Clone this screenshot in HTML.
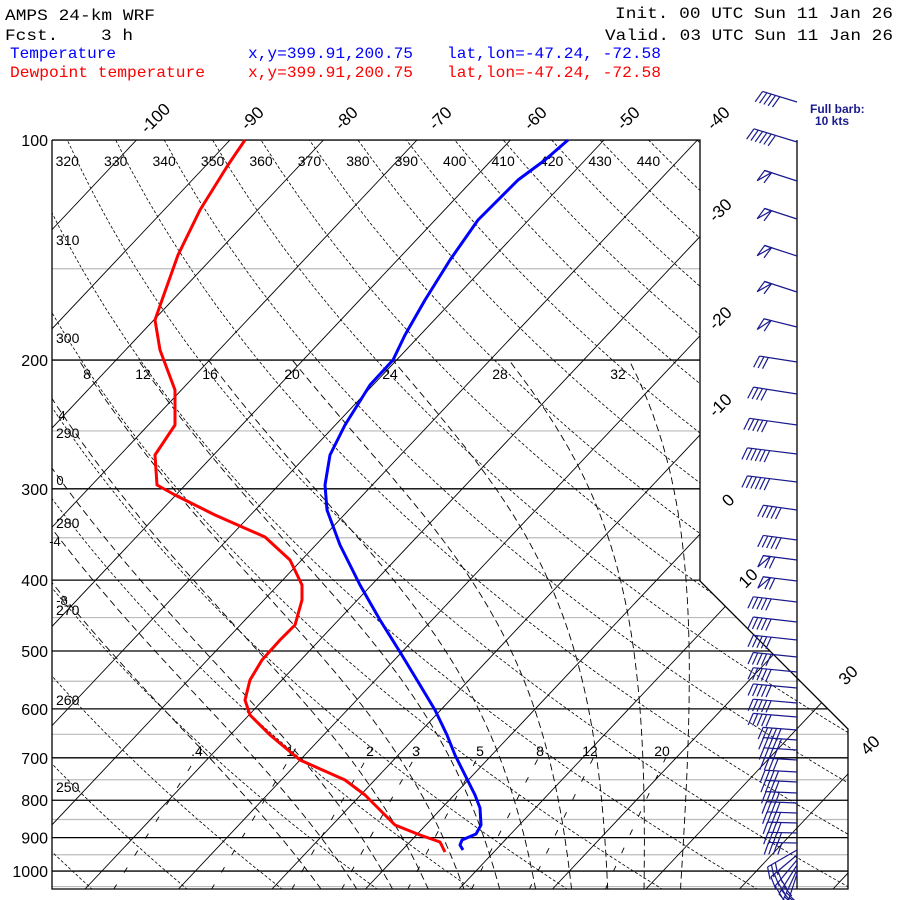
<!DOCTYPE html>
<html><head><meta charset="utf-8">
<style>
html,body{margin:0;padding:0;background:#fff;}
svg{display:block;}
text{font-family:"Liberation Sans",sans-serif;}
.m{font-family:"Liberation Mono","DejaVu Sans Mono",monospace;font-size:16px;}
</style></head>
<body>
<svg id="s" width="900" height="900" viewBox="0 0 900 900" xmlns="http://www.w3.org/2000/svg">
<defs>
<clipPath id="cp"><polygon points="52,140 700,140 700,581 838,719 848,729 848,889 52,889"/></clipPath>
</defs>
<rect width="900" height="900" fill="#fff"/>
<text class="m" x="5" y="20" textLength="150" lengthAdjust="spacingAndGlyphs">AMPS 24-km WRF</text>
<text class="m" x="5" y="40" textLength="128" lengthAdjust="spacingAndGlyphs" xml:space="preserve">Fcst.    3 h</text>
<text class="m" x="615" y="18" textLength="278" lengthAdjust="spacingAndGlyphs">Init. 00 UTC Sun 11 Jan 26</text>
<text class="m" x="605" y="40" textLength="288" lengthAdjust="spacingAndGlyphs">Valid. 03 UTC Sun 11 Jan 26</text>
<g fill="#0000ff">
<text class="m" x="10" y="58" textLength="106" lengthAdjust="spacingAndGlyphs">Temperature</text>
<text class="m" x="248" y="58" textLength="165" lengthAdjust="spacingAndGlyphs">x,y=399.91,200.75</text>
<text class="m" x="447" y="58" textLength="214" lengthAdjust="spacingAndGlyphs">lat,lon=-47.24, -72.58</text>
</g>
<g fill="#ff0000">
<text class="m" x="10" y="77" textLength="195" lengthAdjust="spacingAndGlyphs">Dewpoint temperature</text>
<text class="m" x="248" y="77" textLength="165" lengthAdjust="spacingAndGlyphs">x,y=399.91,200.75</text>
<text class="m" x="447" y="77" textLength="214" lengthAdjust="spacingAndGlyphs">lat,lon=-47.24, -72.58</text>
</g>
<g id="grid" clip-path="url(#cp)"></g>
<g id="lab"></g>
<g id="snd"></g>
<g id="barbs" stroke="#1a1a8c" stroke-width="1.2" fill="none"></g>
<text x="810" y="113" font-family="Liberation Serif,serif" font-weight="bold" font-size="12" fill="#1a1a8c">Full barb:</text>
<text x="815" y="125" font-family="Liberation Serif,serif" font-weight="bold" font-size="12" fill="#1a1a8c">10 kts</text>
</svg>
<script>
(function(){
var NS="http://www.w3.org/2000/svg";
function el(parent,tag,attrs,txt){var e=document.createElementNS(NS,tag);for(var k in attrs)e.setAttribute(k,attrs[k]);if(txt!=null)e.textContent=txt;parent.appendChild(e);return e;}
function Y(p){return 140+317.5*Math.log(p/100);}
function X(T,y){return 230+9.35*(T+90)-0.9426*(y-140);}
var g=document.getElementById('grid'),lab=document.getElementById('lab'),snd=document.getElementById('snd');
// pressure lines
for(var p=100;p<=1050;p+=50){var y=Y(p);var major=(p%100==0);
 el(g,'line',{x1:52,x2:848,y1:y,y2:y,stroke:major?'#000':'#bbb','stroke-width':major?1.3:1.2});}
// isotherms
for(var T=-200;T<=60;T+=10){el(g,'line',{x1:X(T,889),y1:889,x2:X(T,140),y2:140,stroke:'#000','stroke-width':0.9});}
function poly(pts,attrs){var d='';for(var i=0;i<pts.length;i++)d+=(i?'L':'M')+pts[i][0].toFixed(1)+','+pts[i][1].toFixed(1);attrs.d=d;return attrs;}
// dry adiabats
for(var th=200;th<=460;th+=10){var pts=[];for(var p=1060;p>=95;p-=10){var Tk=th*Math.pow(p/1000,0.2857);var y=Y(p);pts.push([X(Tk-273.15,y),y]);}
 el(g,'path',poly(pts,{fill:'none',stroke:'#000','stroke-width':0.8,'stroke-dasharray':'3,2'}));}
// moist adiabats
function es(Tc){return 6.112*Math.exp(17.67*Tc/(Tc+243.5));}
function dTdp(T,p){var e=es(T-273.15);var rs=0.622*e/(p-e);var L=2.5e6,Rd=287,cp=1004;
 return (Rd*T+L*rs)/(p*(cp+L*L*rs*0.622/(Rd*T*T)));}
for(var tw=-8;tw<=32;tw+=4){var pts=[];var T=tw+273.15;
 // down to 1060
 var T2=T,down=[];for(var p=1000;p<1060;p+=5){T2+=dTdp(T2,p)*5;down.push([p+5,T2]);}
 for(var i=down.length-1;i>=0;i--){var y=Y(down[i][0]);pts.push([X(down[i][1]-273.15,y),y]);}
 var y0=Y(1000);pts.push([X(tw,y0),y0]);
 for(var p=1000;p>200;p-=2){T-=dTdp(T,p)*2;var y=Y(p-2);pts.push([X(T-273.15,y),y]);}
 el(g,'path',poly(pts,{fill:'none',stroke:'#000','stroke-width':0.9,'stroke-dasharray':'7,4'}));}
// mixing ratio lines
var ws=[0.4,1,2,3,5,8,12,20];
function tdw(w,p){var e=w*p/(622+w);var l=Math.log(e/6.112);return 243.5*l/(17.67-l);}
for(var i=0;i<ws.length;i++){var pts=[];for(var p=1060;p>=680;p-=10){var y=Y(p);pts.push([X(tdw(ws[i],p),y),y]);}
 el(g,'path',poly(pts,{fill:'none',stroke:'#000','stroke-width':0.9,'stroke-dasharray':'6,14'}));}
// outline
el(lab,'polyline',{points:'52,140 700,140 700,581 838,719 848,729 848,889 52,889 52,140',fill:'none',stroke:'#000','stroke-width':1.3});
el(lab,'line',{x1:797,y1:140,x2:797,y2:889,stroke:'#000','stroke-width':1.3});
// pressure labels
var pl=[100,200,300,400,500,600,700,800,900,1000];
for(var i=0;i<pl.length;i++){el(lab,'text',{x:48,y:Y(pl[i])+6,'text-anchor':'end','font-size':16},String(pl[i]));}
// top temp labels
var tl=[[-100,155,118],[-90,252,118],[-80,346,118],[-70,440,118],[-60,535,118],[-50,628,118],[-40,718,118],[-30,720,210],[-20,720,318],[-10,720,405],[0,728,500],[10,748,578],[30,848,675],[40,870,745]];
for(var i=0;i<tl.length;i++){el(lab,'text',{x:tl[i][1],y:tl[i][2]+6,'text-anchor':'middle','font-size':17,transform:'rotate(-45 '+tl[i][1]+' '+tl[i][2]+')'},String(tl[i][0]));}
// theta top labels
for(var th=320;th<=440;th+=10){var Tk=th*Math.pow(0.1,0.2857);var x=X(Tk-273.15,140);el(lab,'text',{x:x,y:166,'text-anchor':'middle','font-size':14},String(th));}
var tll=[[310,240],[300,338],[290,433],[280,523],[270,610],[260,700],[250,787]];
for(var i=0;i<tll.length;i++)el(lab,'text',{x:56,y:tll[i][1]+5,'font-size':14},String(tll[i][0]));
var ml=[[8,87],[12,143],[16,210],[20,292],[24,390],[28,500],[32,618]];
for(var i=0;i<ml.length;i++)el(lab,'text',{x:ml[i][1],y:379,'text-anchor':'middle','font-size':14},String(ml[i][0]));
var ml2=[['4',62,415],['0',60,480],['-4',55,541],['-8',62,600]];
for(var i=0;i<ml2.length;i++)el(lab,'text',{x:ml2[i][1],y:ml2[i][2]+5,'text-anchor':'middle','font-size':13},ml2[i][0]);
var wl=[['.4',197],['1',290],['2',370],['3',416],['5',480],['8',540],['12',590],['20',662]];
for(var i=0;i<wl.length;i++)el(lab,'text',{x:wl[i][1],y:756,'text-anchor':'middle','font-size':14},wl[i][0]);
// sounding
function line(pts,c){var s='';for(var i=0;i<pts.length;i++)s+=pts[i][0]+','+pts[i][1]+' ';el(snd,'polyline',{points:s,fill:'none',stroke:c,'stroke-width':3,'stroke-linejoin':'round'});}
line([[568,140],[545,160],[518,180],[478,220],[450,260],[425,300],[405,335],[393,360],[370,385],[345,425],[330,455],[325,485],[327,510],[340,545],[360,585],[380,620],[400,652],[420,685],[435,710],[447,735],[455,755],[465,775],[475,795],[480,808],[481,825],[476,834],[462,840],[460,845],[463,850]],'#0000ff');
line([[245,140],[228,165],[200,210],[178,255],[162,300],[155,320],[160,350],[175,390],[175,425],[165,440],[155,455],[157,485],[175,495],[215,515],[265,537],[290,560],[302,585],[302,600],[295,625],[280,640],[262,660],[250,680],[245,700],[250,715],[270,735],[300,760],[345,780],[365,795],[380,810],[395,825],[420,835],[440,842],[445,852]],'#ff0000');
// barbs
var B=document.getElementById('barbs');
function barb(x0,y0,ang,L,nf,flag){var a=ang*Math.PI/180;var ux=-Math.cos(a),uy=-Math.sin(a);
 var tx=x0+ux*L,ty=y0+uy*L;el(B,'line',{x1:x0,y1:y0,x2:tx,y2:ty});
 // perpendicular (feathers hang below-left)
 var fx=-uy*1+ux*0.35, fy=ux*-1+uy*0.35; // rotate
 var nx=uy, ny=-ux; if(ny<0){nx=-nx;ny=-ny;}
 var fl=12;var dx=nx*fl+ux*4,dy=ny*fl+uy*4;
 var k=0;
 if(flag){el(B,'polygon',{points:tx+','+ty+' '+(tx+dx)+','+(ty+dy)+' '+(tx-ux*7)+','+(ty-uy*7)});k=1.6;}
 for(var i=0;i<nf;i++){var px=tx-ux*(k+i)*4.5,py=ty-uy*(k+i)*4.5;el(B,'line',{x1:px,y1:py,x2:px+dx,y2:py+dy});}
}
barb(797,102,17,36,5,false);
var top=[[142,17,45,6,0],[181,18,34,1,1],[219,18,34,1,1],[256,18,34,1,1],[292,18,34,1,1],[327,14,34,1,1],[362,9,38,3,0],[394,9,44,4,0],[425,8,48,5,0],[454,7,50,6,0],[482,7,50,6,0]];
for(var i=0;i<top.length;i++)barb(797,top[i][0],top[i][1],top[i][2],top[i][4]?1:top[i][3],top[i][4]);
var ys=[510,540,560,581,602,622,640,657,672,688,703,717,730,740,750,760,772,782,793,803,813,823,833,843];
for(var i=0;i<ys.length;i++){var ang=8-i*0.3;var L=i<4?34:(i<12?44:40-i*0.5);var nf=i<4?(i<2?5:2):(i<14?5:4);barb(797,ys[i],ang,L,nf,i>=2&&i<4);}
var bs=[[850,-30],[855,-40],[860,-50],[865,-58],[870,-65],[874,-72]];
for(var i=0;i<bs.length;i++)barb(797,bs[i][0],bs[i][1],34,3,false);
})();
</script>
</body></html>
